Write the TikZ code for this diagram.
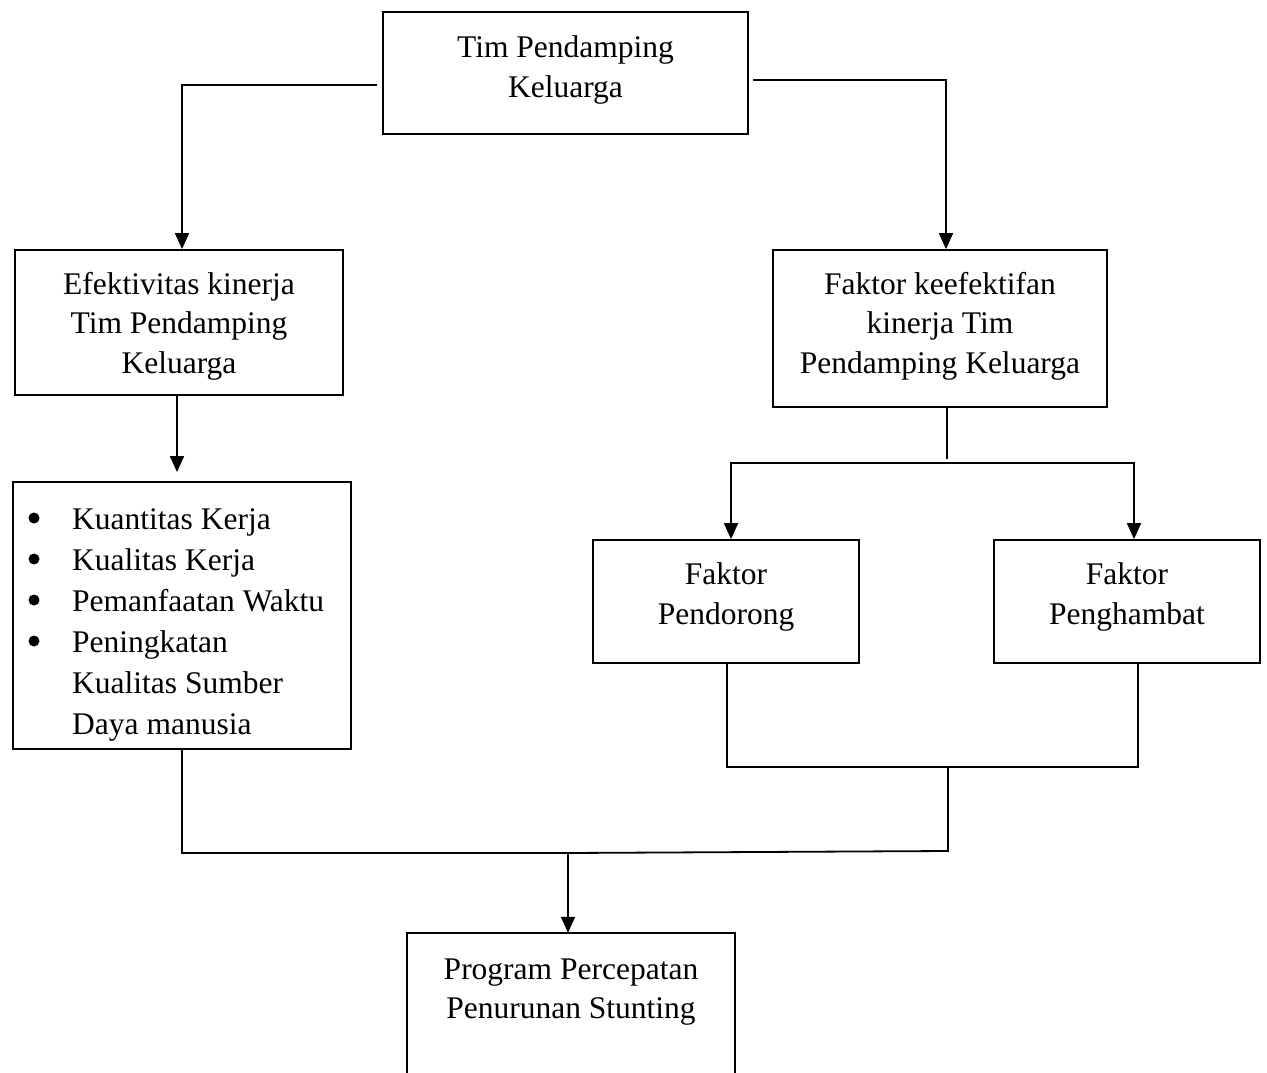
\documentclass[tikz,border=0pt]{standalone}
\usepackage{fontspec}
\setmainfont{Liberation Serif}
\usetikzlibrary{arrows.meta}
\begin{document}
\begin{tikzpicture}[x=1pt,y=-1pt,
  box/.style={draw, line width=1.8pt, inner sep=0pt},
  txt/.style={align=center, inner sep=0pt, font=\fontsize{31.5}{39.5}\selectfont},
  conn/.style={line width=1.8pt},
  arr/.style={conn, -{Triangle[width=14pt,length=16pt]}},
  dotmark/.style={fill=black}]
\useasboundingbox (0,0) rectangle (1267,1073);
\fill[white] (0,0) rectangle (1267,1073);
% boxes
\node[box, minimum width=365, minimum height=122] (top) at (565.5,73) {};
\node[txt] at (565.5,70) {Tim Pendamping\\Keluarga};
\node[box, minimum width=328, minimum height=145] (eff) at (179,322.5) {};
\node[txt] at (179,326) {Efektivitas kinerja\\Tim Pendamping\\Keluarga};
\node[box, minimum width=338, minimum height=267] (list) at (182,615.5) {};
\node[txt, align=left, anchor=west] (items) at (72,625) {%
  Kuantitas Kerja\\[1.5pt]
  Kualitas Kerja\\[1.5pt]
  Pemanfaatan Waktu\\[1.5pt]
  Peningkatan\\[1.5pt]
  Kualitas Sumber\\[1.5pt]
  Daya manusia};
\foreach \yy in {518,559,600,641} \fill[dotmark] (34,\yy) circle (5.5);
\node[box, minimum width=334, minimum height=157] (fk) at (940,328.5) {};
\node[txt] at (940,326) {Faktor keefektifan\\kinerja Tim\\Pendamping Keluarga};
\node[box, minimum width=266, minimum height=123] (fp) at (726,601.5) {};
\node[txt] at (726,597) {Faktor\\Pendorong};
\node[box, minimum width=266, minimum height=123] (fh) at (1127,601.5) {};
\node[txt] at (1127,597) {Faktor\\Penghambat};
\node[inner sep=0pt, minimum width=328, minimum height=140] (bot) at (571,1003) {};
\draw[line width=1.8pt] (bot.south west) -- (bot.north west) -- (bot.north east) -- (bot.south east);
\node[txt] at (571,992) {Program Percepatan\\Penurunan Stunting};
% connectors
\draw[arr] ([shift={(-5,12)}]top.west) -| ([xshift=3]eff.north);
\draw[arr] ([shift={(4,7)}]top.east) -| ([xshift=6]fk.north);
\draw[arr] ([xshift=-2]eff.south) -- ([shift={(-5,-9)}]list.north);
\coordinate (s) at (947,463);
\draw[conn] ([xshift=7]fk.south) -- ++(0,51);
\draw[arr] (s) -| ([xshift=5]fp.north);
\draw[arr] (s) -| ([xshift=7]fh.north);
\coordinate (m) at (948,767);
\draw[conn] ([xshift=1]fp.south) |- (m);
\draw[conn] ([xshift=11]fh.south) |- (m);
\coordinate (j) at (568,853);
\draw[conn] (m) -- (948,851) -- (j);
\draw[conn] (list.south) |- (j);
\draw[arr] (j) -- (j |- bot.north);
\end{tikzpicture}
\end{document}
